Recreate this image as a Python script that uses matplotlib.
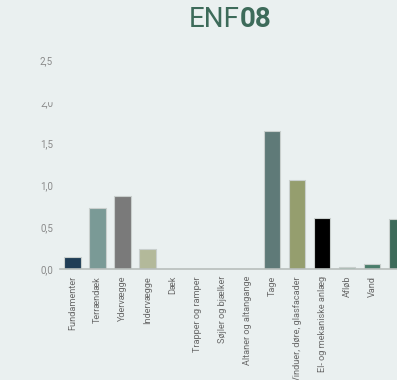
import matplotlib.pyplot as plt
from matplotlib.patches import Rectangle

# Bygningsdele og deres værdier
kategorier = ['Fundamenter', 'Terrændæk', 'Ydervægge', 'Indervægge', 'Dæk',
              'Trapper og ramper', 'Søjler og bjælker', 'Altaner og altangange',
              'Tage', 'Vinduer, døre, glasfacader', 'El- og mekaniske anlæg',
              'Afløb', 'Vand', '']
vaerdier = [0.14, 0.735, 0.87, 0.245, 0.0, 0.0, 0.0, 0.0,
            1.655, 1.06, 0.61, 0.028, 0.065, 0.6]
farver = ['#1f3d56', '#7a9a96', '#7a7a7a', '#b3b99a', '#7a7a7a', '#7a7a7a',
          '#7a7a7a', '#7a7a7a', '#5f7a78', '#959e6e', '#000000', '#7fb8a0',
          '#4a7d6b', '#3d6b5a']
y_ticks = [0.0, 0.5, 1.0, 1.5, 2.0, 2.5]
y_labels = ['0,0', '0,5', '1,0', '1,5', '2,0', '2,5']

bg = '#eaf0f0'
W, H = 397, 380

fig = plt.figure(figsize=(W / 100, H / 100), dpi=100, facecolor=bg)
ax = fig.add_axes([60 / W, (H - 269) / H, (W - 60) / W, 209 / H])
ax.set_facecolor(bg)

x = list(range(len(vaerdier)))
ax.bar(x, vaerdier, width=0.66, color=farver, edgecolor='#c9cfcd', linewidth=0.8)

ax.set_xlim(-0.5, 12.66)
ax.set_ylim(0, 2.5)
ax.set_yticks(y_ticks)
ax.set_yticklabels(y_labels, fontsize=7, color='#8a8a8a', family='Roboto')
ax.set_xticks(x)
ax.set_xticklabels(kategorier, rotation=90, fontsize=6.6, color='#6a6a6a',
                   family='Roboto', va='top')
ax.tick_params(axis='both', length=0)
ax.tick_params(axis='y', pad=5)
ax.tick_params(axis='x', pad=5)
for s in ['top', 'right', 'left']:
    ax.spines[s].set_visible(False)
ax.spines['bottom'].set_color('#b8bebc')
ax.spines['bottom'].set_linewidth(1.2)

# delvist skjult label ved 2,0
fig.patches.append(Rectangle((30 / W, (H - 101) / H), 30 / W, 9 / H,
                             transform=fig.transFigure, color=bg, zorder=5))

# titel: ENF + fed 08
fig.text(240 / W, (H - 27) / H, 'ENF', ha='right', va='baseline', fontsize=20,
         color='#3d6b5a', family='Roboto', fontweight='normal')
fig.text(240 / W, (H - 27) / H, '08', ha='left', va='baseline', fontsize=20,
         color='#3d6b5a', family='Roboto', fontweight='bold')

fig.savefig('out.png', dpi=100, facecolor=bg)
